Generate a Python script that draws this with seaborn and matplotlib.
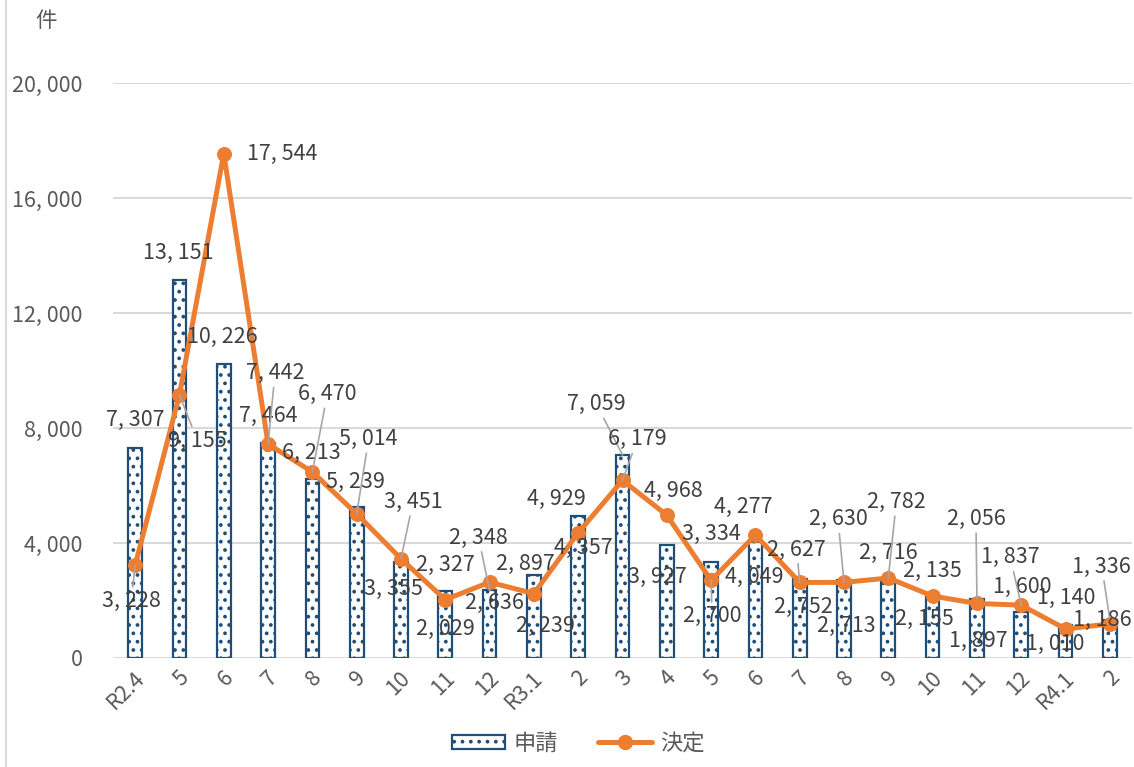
import numpy as np
import seaborn as sns
import matplotlib.pyplot as plt
from matplotlib.lines import Line2D
from matplotlib.patches import Patch
import matplotlib.transforms as mtransforms

# months R2.4 .. R4.2
months = ["R2.4", "5", "6", "7", "8", "9", "10", "11", "12",
          "R3.1", "2", "3", "4", "5", "6", "7", "8", "9", "10", "11", "12",
          "R4.1", "2"]
applied = [7307, 13151, 10226, 7464, 6213, 5239, 3355, 2327, 2348,
           2897, 4929, 7059, 3927, 3334, 4049, 2752, 2713, 2716, 2135, 2056, 1600,
           1140, 1336]
decided = [3228, 9155, 17544, 7442, 6470, 5014, 3451, 2029, 2636,
           2239, 4357, 6179, 4968, 2700, 4277, 2627, 2630, 2782, 2155, 1897, 1837,
           1010, 1186]
yticks = [0, 4000, 8000, 12000, 16000, 20000]

# label offsets in pixels (dx, dy downwards) and whether a leader line is drawn
bar_off = [(0, -28), (-1, -27), (-1, -27), (0, -27), (-1, -26), (-1, -25), (-8, 27),
           (0, -26), (-11, -53), (-9, -11), (-22, -17), (-26, -51), (-9, 32),
           (0, -28), (-1, 35), (4, 28), (2, 46), (0, -27), (0, -26), (-1, -80),
           (1, -25), (1, -27), (-8, -53)]
bar_lead = {8, 11, 19, 22}
line_off = [(-4, 36), (18, 46), (58, 0), (7, -71), (15, -78), (12, -75), (12, -57),
            (0, 29), (5, 21), (12, 32), (5, 15), (15, -41), (7, -24), (1, 36),
            (-12, -28), (-3, -33), (-6, -63), (8, -76), (-8, 23), (1, 37),
            (-11, -48), (-10, 15), (-8, -4)]
line_lead = {0, 1, 3, 4, 5, 6, 11, 13, 15, 16, 17, 20}

BLUE = "#1F4E79"
ORANGE = "#ED7D31"
TXT = "#404040"

sns.set_style("white")
plt.rcParams["font.family"] = ["Noto Sans CJK JP", "DejaVu Sans"]
plt.rcParams["hatch.color"] = BLUE
plt.rcParams["hatch.linewidth"] = 1.5


def fmt(v):
    return f"{v:,}".replace(",", ", ")


fig = plt.figure(figsize=(11.34, 7.67), dpi=100)
ax = fig.add_axes([113 / 1134, 1 - 658 / 767, 1019 / 1134, 575 / 767])

idx = np.arange(len(months))
sns.barplot(x=idx, y=applied, color="white", edgecolor=BLUE, linewidth=1.6,
            hatch="..", width=0.31, saturation=1, ax=ax, zorder=2)
sns.lineplot(x=idx, y=decided, color=ORANGE, lw=3.6, marker="o", markersize=10,
             markeredgecolor=ORANGE, ax=ax, zorder=3)

ax.set_xlim(-0.5, len(months) - 0.5)
ax.set_ylim(0, 20000)
ax.set_yticks(yticks)
ax.set_yticklabels([fmt(v) for v in yticks], fontsize=15.5, color="#595959")
ax.set_xticks(idx)
ax.set_xticklabels(months, rotation=45, ha="right", va="center",
                   rotation_mode="anchor", fontsize=15.5, color="#595959")
ax.tick_params(axis="y", length=0, pad=22)
ax.tick_params(axis="x", length=0, pad=12)
shift = mtransforms.ScaledTranslation(6 / 100, 0, fig.dpi_scale_trans)
for lab in ax.get_xticklabels():
    lab.set_transform(lab.get_transform() + shift)
ax.yaxis.grid(True, color="#d9d9d9", lw=1.4)
ax.set_axisbelow(True)
ax.set_xlabel("")
for s in ax.spines.values():
    s.set_visible(False)

lead = dict(arrowstyle="-", color="#a6a6a6", lw=1.2, shrinkA=0, shrinkB=0)
for i in idx:
    dx, dy = bar_off[i]
    ax.annotate(fmt(applied[i]), (i, applied[i]), xytext=(dx, -dy),
                textcoords="offset pixels", ha="center", va="center",
                fontsize=15.5, color=TXT, zorder=5,
                arrowprops=lead if i in bar_lead else None)
    dx, dy = line_off[i]
    ax.annotate(fmt(decided[i]), (i, decided[i]), xytext=(dx, -dy),
                textcoords="offset pixels", ha="center", va="center",
                fontsize=15.5, color=TXT, zorder=5,
                arrowprops=lead if i in line_lead else None)

fig.text(46 / 1134, 1 - 21 / 767, "件", fontsize=15.5, color="#595959",
         ha="center", va="center")
fig.add_artist(Line2D([5.5 / 1134, 5.5 / 1134], [0, 1], color="#d9d9d9", lw=1.5))

handles = [Patch(facecolor="white", edgecolor=BLUE, hatch="..", lw=1.6, label="申請"),
           Line2D([], [], color=ORANGE, lw=3.6, marker="o", markersize=10, label="決定")]
fig.legend(handles=handles, loc="center", bbox_to_anchor=(0.51, 1 - 743 / 767),
           ncol=2, frameon=False, fontsize=16, handlelength=2.4,
           handleheight=0.6, columnspacing=1.8, handletextpad=0.4,
           labelcolor="#595959")

fig.savefig("out.png", dpi=100)
